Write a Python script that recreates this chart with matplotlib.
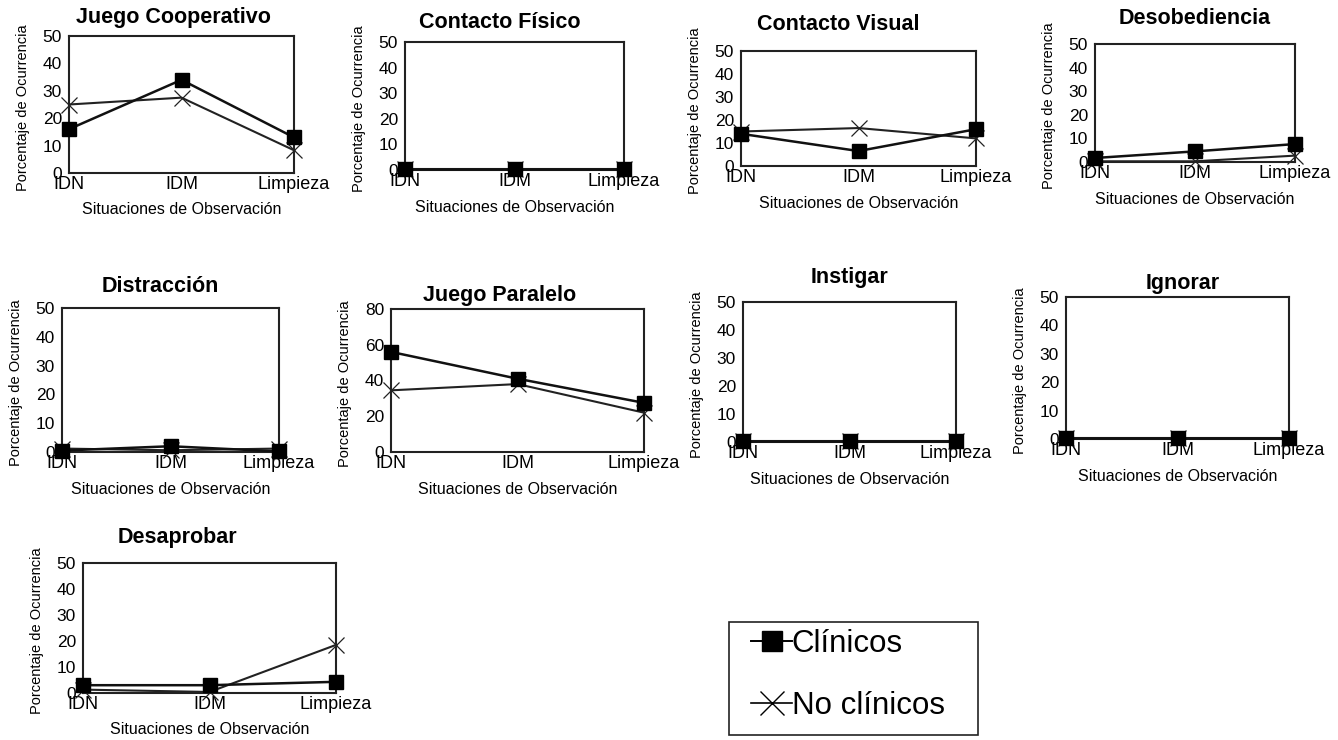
import matplotlib
matplotlib.use("Agg")
import matplotlib.pyplot as plt
from matplotlib.lines import Line2D
from matplotlib.patches import Rectangle

plt.rcParams['font.family'] = ['Liberation Sans', 'DejaVu Sans']

# %% data: percentage of occurrence per observation situation
situaciones = ["IDN", "IDM", "Limpieza"]

titulos = ["Juego Cooperativo", "Contacto Físico", "Contacto Visual",
           "Desobediencia", "Distracción", "Juego Paralelo", "Instigar",
           "Ignorar", "Desaprobar"]

clinicos = [[16, 34, 13],
            [0.5, 0.5, 0.5],
            [14, 6.5, 16],
            [1.7, 4.5, 7.6],
            [0.5, 2, 0.2],
            [56, 41, 27.5],
            [0.5, 0.5, 0.5],
            [0.5, 0.5, 0.5],
            [3, 3, 4.3]]

no_clinicos = [[25, 27.5, 8.3],
               [0.2, 0.2, 0.2],
               [15, 16.5, 12],
               [0.3, 0.3, 2.7],
               [1.2, 0.6, 1.2],
               [34.5, 38, 22],
               [0.2, 0.2, 0.2],
               [0.2, 0.2, 0.2],
               [1.3, 0.4, 18.5]]

ymax = [50, 50, 50, 50, 50, 80, 50, 50, 50]
yticks = [[0, 10, 20, 30, 40, 50]] * 5 + [[0, 20, 40, 60, 80]] + [[0, 10, 20, 30, 40, 50]] * 3

# %% panel boxes in pixels: left, right, top, bottom
W, H = 1338, 740
cajas = [(69, 294, 36, 173), (405, 624, 42, 170), (741, 976, 51, 166),
         (1095, 1295, 44, 162), (62, 279, 308, 452), (391, 644, 309, 452),
         (743, 956, 302, 442), (1066, 1289, 297, 439), (83, 336, 563, 693)]
titulo_xy = [(173, 17), (500, 22), (838, 25), (1195, 18), (160, 287),
             (500, 295), (850, 277), (1183, 283), (177, 538)]

fig = plt.figure(figsize=(W / 100, H / 100), dpi=100)
fig.patch.set_facecolor('white')

for i in range(len(titulos)):
    l, r, t, b = cajas[i]
    ax = fig.add_axes([l / W, 1 - b / H, (r - l) / W, (b - t) / H])
    x = list(range(len(situaciones)))
    ax.plot(x, clinicos[i], color='#111111', lw=1.8, marker='s', ms=10,
            mfc='black', mec='black', clip_on=False, zorder=4)
    ax.plot(x, no_clinicos[i], color='#222222', lw=1.5, marker='x', ms=12,
            mew=0.9, clip_on=False, zorder=3)
    ax.set_xlim(0, 2)
    ax.set_ylim(0, ymax[i])
    ax.set_xticks(x)
    ax.set_xticklabels(situaciones, fontsize=13)
    ax.set_yticks(yticks[i])
    ax.set_yticklabels([str(v) for v in yticks[i]], fontsize=12.5)
    ax.tick_params(length=0)
    ax.tick_params(axis='x', pad=2)
    ax.tick_params(axis='y', pad=5)
    for s in ax.spines.values():
        s.set_linewidth(1.5)
        s.set_color('#222222')
    ax.set_xlabel("Situaciones de Observación", fontsize=11.5, labelpad=7)
    ax.set_ylabel("Porcentaje de Ocurrencia", fontsize=10.5)
    ax.yaxis.set_label_coords(-39 / (r - l), 0.48)
    tx, ty = titulo_xy[i]
    fig.text(tx / W, 1 - ty / H, titulos[i], fontsize=15.5, fontweight='bold',
             ha='center', va='center')

# %% shared legend with its own box
caja_leg = Rectangle((729 / W, 1 - 735 / H), (978 - 729) / W, (735 - 622) / H,
                     transform=fig.transFigure, fill=False, lw=1.2,
                     edgecolor='#222222')
fig.patches.append(caja_leg)

handles = [Line2D([], [], color='black', lw=1.4, marker='s', ms=14, mfc='black'),
           Line2D([], [], color='black', lw=1.2, marker='x', ms=17, mew=1.0)]
leg = fig.legend(handles, ["Clínicos", "No clínicos"], loc='center',
                 bbox_to_anchor=(848 / W, 1 - 675 / H),
                 fontsize=22.5, frameon=False,
                 handlelength=1.3, handletextpad=0.0, borderpad=0,
                 labelspacing=1.0, borderaxespad=0)

fig.savefig("out.png", dpi=100, facecolor='white')
